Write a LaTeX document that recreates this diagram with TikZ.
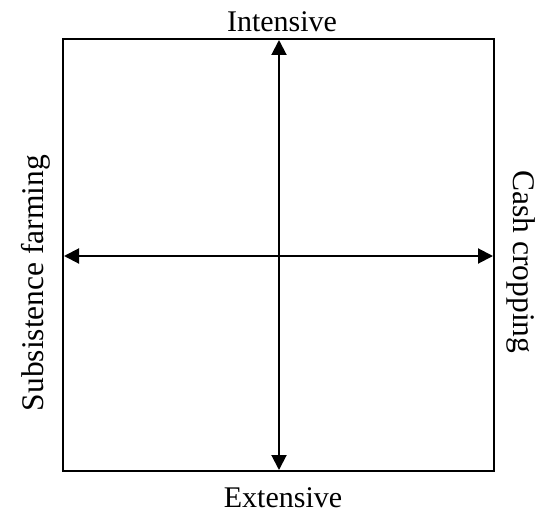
\documentclass[tikz,border=0pt]{standalone}
\usepackage{fontspec}
\setmainfont{Liberation Serif}
\usetikzlibrary{arrows.meta}
\begin{document}
\begin{tikzpicture}[x=1pt,y=-1pt,
    axis/.style={line width=2pt,{Triangle[length=15pt,width=15pt]}-{Triangle[length=15pt,width=15pt]}},
    lbl/.style={font=\fontsize{30}{36}\selectfont,inner sep=0pt,anchor=base},
    sidelbl/.style={lbl,font=\fontsize{31.5}{38}\selectfont}]
        \useasboundingbox (0,0) rectangle (551,516);
        \draw[line width=2pt] (63,39) rectangle (494,471);
        \coordinate (top) at (279,40);
        \coordinate (bottom) at (279,470);
        \coordinate (left) at (64,256);
        \coordinate (right) at (493,256);
        \draw[axis] (bottom) -- (top);
        \draw[axis] (left) -- (right);
        \node[lbl] (intensive) at (282,32) {Intensive};
        \node[lbl] (extensive) at (283,507) {Extensive};
        \node[sidelbl,rotate=90] (subsistence) at (43,283) {Subsistence farming};
        \node[sidelbl,rotate=-90] (cash) at (513,262) {Cash cropping};
    \end{tikzpicture}
\end{document}
